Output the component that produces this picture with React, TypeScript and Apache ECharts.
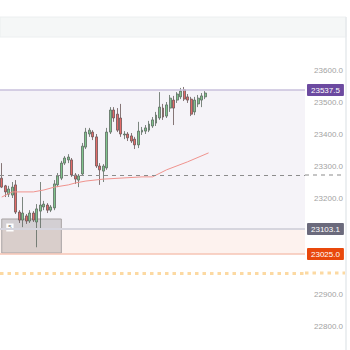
import React, { useEffect, useRef } from "react";
import * as echarts from "echarts";

// OHLC candles: [open, close, low, high]
const candles: number[][] = [
  [23262, 23234, 23231, 23309],
  [23238, 23219, 23203, 23241],
  [23212, 23228, 23203, 23238],
  [23209, 23234, 23200, 23250],
  [23241, 23156, 23150, 23256],
  [23156, 23131, 23122, 23162],
  [23131, 23153, 23109, 23203],
  [23144, 23128, 23119, 23150],
  [23128, 23153, 23122, 23162],
  [23153, 23131, 23125, 23159],
  [23125, 23166, 23046, 23181],
  [23159, 23178, 23106, 23250],
  [23172, 23181, 23162, 23191],
  [23178, 23162, 23153, 23184],
  [23162, 23172, 23156, 23178],
  [23169, 23244, 23162, 23256],
  [23241, 23269, 23234, 23278],
  [23262, 23309, 23256, 23316],
  [23309, 23325, 23303, 23331],
  [23319, 23328, 23309, 23337],
  [23319, 23272, 23266, 23325],
  [23272, 23259, 23244, 23278],
  [23256, 23269, 23234, 23275],
  [23275, 23362, 23269, 23372],
  [23359, 23406, 23353, 23419],
  [23400, 23412, 23391, 23419],
  [23406, 23391, 23381, 23412],
  [23391, 23300, 23294, 23400],
  [23300, 23288, 23241, 23309],
  [23284, 23300, 23250, 23306],
  [23294, 23406, 23288, 23419],
  [23406, 23475, 23400, 23484],
  [23475, 23450, 23438, 23484],
  [23462, 23412, 23406, 23481],
  [23450, 23400, 23391, 23494],
  [23397, 23400, 23384, 23409],
  [23400, 23388, 23378, 23406],
  [23394, 23378, 23372, 23403],
  [23384, 23366, 23353, 23391],
  [23366, 23409, 23356, 23438],
  [23406, 23412, 23397, 23422],
  [23409, 23419, 23400, 23428],
  [23412, 23431, 23406, 23441],
  [23425, 23444, 23419, 23453],
  [23434, 23459, 23425, 23469],
  [23450, 23484, 23444, 23531],
  [23481, 23453, 23444, 23494],
  [23456, 23491, 23450, 23500],
  [23481, 23512, 23469, 23522],
  [23506, 23481, 23428, 23519],
  [23506, 23525, 23497, 23531],
  [23516, 23534, 23509, 23544],
  [23538, 23509, 23503, 23547],
  [23516, 23506, 23497, 23525],
  [23509, 23462, 23456, 23516],
  [23469, 23506, 23459, 23516],
  [23494, 23512, 23484, 23522],
  [23506, 23519, 23484, 23528],
  [23516, 23528, 23509, 23534],
];

// moving-average points: [candle index, value]
const maPoints: number[][] = [
  [0, 23203],
  [3, 23219],
  [9, 23219],
  [12, 23225],
  [15, 23234],
  [19, 23241],
  [21, 23247],
  [24, 23253],
  [29, 23259],
  [40, 23266],
  [43, 23266],
  [47, 23288],
  [53, 23313],
  [59, 23341],
];

const TOTAL_SLOTS = 87;
const categories: string[] = Array.from({ length: TOTAL_SLOTS }, (_, i) => String(i + 1));

const yTicks = { min: 22800, max: 23600, interval: 100 };

const levelPurple = 23537.5;
const levelGrey = 23103.1;
const levelOrange = 23025.0;
const levelDotted = 22965.6;
const levelDashed = 23271.9;
const boxTop = 23134.4;
const boxBottom = 23028.1;
const boxEndIndex = 17;

// price tags drawn on the axis hide the tick labels they cover
const taggedLevels = [levelGrey, levelOrange];

export default function App() {
  const ref = useRef<HTMLDivElement>(null);
  useEffect(() => {
    if (!ref.current) return;
    const chart = echarts.init(ref.current, undefined, { renderer: "svg" });

    const candleData = categories.map((_, i) => (i < candles.length ? candles[i] : "-"));
    const maData: any[] = categories.map(() => "-");
    maPoints.forEach(([i, v]) => (maData[i] = v));

    const tagLabel = (bg: string) => ({
      show: true,
      position: "end",
      distance: 2,
      formatter: (p: any) => Number(p.value).toFixed(1),
      backgroundColor: bg,
      color: "#ffffff",
      fontSize: 8,
      fontFamily: "Arial, Liberation Sans, sans-serif",
      padding: [2, 4],
      borderRadius: 1,
    });

    const baseGraphic = [
      {
        type: "rect",
        shape: { x: 0, y: 17, width: 346, height: 20 },
        style: { fill: "#f5f7f7", stroke: "#eceff0", lineWidth: 1 },
        z: -1,
      },
      {
        type: "line",
        shape: { x1: 346, y1: 17, x2: 346, y2: 350 },
        style: { stroke: "#e6eaec", lineWidth: 1.5 },
      },
    ];

    chart.setOption({
      animation: false,
      backgroundColor: "#ffffff",
      grid: { left: 0, right: 45, top: 70, bottom: 24 },
      xAxis: {
        type: "category",
        data: categories,
        boundaryGap: true,
        show: false,
      },
      yAxis: {
        type: "value",
        position: "right",
        min: yTicks.min,
        max: yTicks.max,
        interval: yTicks.interval,
        axisLine: { show: false },
        axisTick: { show: false },
        splitLine: { show: false },
        axisLabel: {
          margin: 38,
          align: "right",
          fontSize: 8,
          color: "#a3a3a3",
          fontFamily: "Arial, Liberation Sans, sans-serif",
          formatter: (v: number) =>
            taggedLevels.some((l) => Math.abs(l - v) < 30) ? "" : v.toFixed(1),
        },
      },
      graphic: baseGraphic,
      series: [
        {
          type: "candlestick",
          data: candleData,
          barWidth: "70%",
          itemStyle: {
            color: "#7fc48c",
            color0: "#e46a68",
            borderColor: "#5d6a60",
            borderColor0: "#6a5555",
            borderWidth: 0.8,
          },
          markArea: {
            silent: true,
            data: [
              [
                { yAxis: levelPurple, itemStyle: { color: "#f5f3f8" } },
                { yAxis: levelGrey },
              ],
              [
                { yAxis: levelGrey, itemStyle: { color: "#fdf2ee" } },
                { yAxis: levelOrange },
              ],
              [
                {
                  xAxis: 0,
                  yAxis: boxTop,
                  itemStyle: {
                    color: "rgba(110,100,100,0.25)",
                    borderColor: "#a9a4a4",
                    borderWidth: 1,
                  },
                  label: {
                    show: true,
                    position: "insideTopLeft",
                    formatter: "5",
                    fontSize: 6,
                    color: "#666",
                    backgroundColor: "#ffffff",
                    padding: [1, 2],
                    distance: 5,
                  },
                },
                { xAxis: boxEndIndex, yAxis: boxBottom },
              ],
            ],
          },
          markLine: {
            silent: true,
            symbol: "none",
            data: [
              {
                yAxis: levelPurple,
                lineStyle: { color: "#c9c1dd", width: 1.5, type: "solid" },
                label: tagLabel("#6c4aa0"),
              },
              {
                yAxis: levelGrey,
                lineStyle: { color: "#d6d5de", width: 2, type: "solid" },
                label: tagLabel("#6b6a7c"),
              },
              {
                yAxis: levelOrange,
                lineStyle: { color: "#f6c4b4", width: 1.5, type: "solid" },
                label: tagLabel("#e9480c"),
              },
              {
                yAxis: levelDotted,
                lineStyle: { color: "#fcd9a2", width: 3, type: [3.5, 4] },
                label: { show: false },
              },
              {
                yAxis: levelDashed,
                lineStyle: { color: "#8c8c8c", width: 1.2, type: [4, 4] },
                label: { show: false },
              },
            ],
          },
        },
        {
          type: "line",
          data: maData,
          connectNulls: true,
          showSymbol: false,
          symbol: "none",
          lineStyle: { color: "#f0938e", width: 1 },
          z: 3,
        },
      ],
    });

    // extend the two unlabeled level lines across the price column
    const yDashed = chart.convertToPixel({ yAxisIndex: 0 }, levelDashed) as number;
    const yDotted = chart.convertToPixel({ yAxisIndex: 0 }, levelDotted) as number;
    chart.setOption({
      graphic: [
        ...baseGraphic,
        {
          type: "line",
          shape: { x1: 305, y1: yDashed, x2: 345, y2: yDashed },
          style: { stroke: "#8c8c8c", lineWidth: 1.2, lineDash: [4, 4] },
        },
        {
          type: "line",
          shape: { x1: 305, y1: yDotted, x2: 345, y2: yDotted },
          style: { stroke: "#fcd9a2", lineWidth: 3, lineDash: [3.5, 4] },
        },
      ],
    });

    return () => chart.dispose();
  }, []);

  return (
    <div
      ref={ref}
      style={{ position: "fixed", left: 0, top: 0, width: 350, height: 350 }}
    />
  );
}
